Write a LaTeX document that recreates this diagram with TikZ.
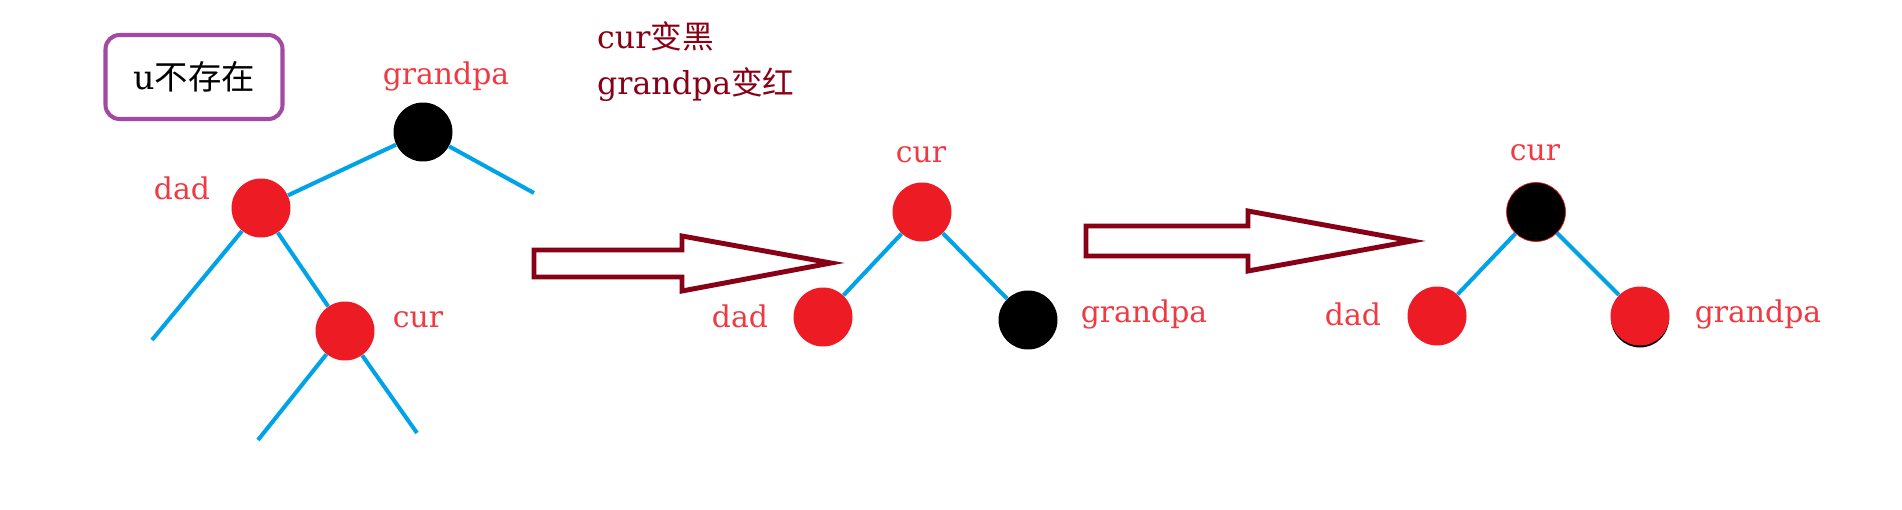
\documentclass[tikz,border=0pt]{standalone}
\usepackage{fontspec}
\setmainfont{DejaVu Serif}
\newfontfamily\cjk{Noto Sans CJK SC}
\definecolor{nodered}{HTML}{ED1C24}
\definecolor{lblred}{HTML}{EE3A42}
\definecolor{linkblue}{HTML}{00A2E8}
\definecolor{darkred}{HTML}{880015}
\definecolor{boxpurple}{HTML}{A349A4}

\begin{document}
\begin{tikzpicture}[
		x=0.02cm, y=-0.02cm,
		rb/.style={circle,fill=nodered,minimum size=1.18cm,inner sep=0pt},
		bk/.style={circle,fill=black,minimum size=1.18cm,inner sep=0pt},
		branch/.style={draw=linkblue,line width=2.3pt},
		lbl/.style={text=lblred,font=\fontsize{17}{20}\selectfont},
		note/.style={text=darkred,font=\fontsize{18}{24}\selectfont,anchor=west},
		bigarrow/.style={draw=darkred,line width=2.8pt,line join=miter},
		ubox/.style={draw=boxpurple,line width=2.3pt,rounded corners=0.28cm,minimum width=3.54cm,minimum height=1.68cm,font=\fontsize{19}{22}\selectfont}
		]
		\useasboundingbox (0,0) rectangle (1902,510);

		\node[ubox] (nou) at (194,77) {u{\cjk 不存在}};
		\node[note] (tip1) at (591,36) {cur{\cjk 变黑}};
		\node[note] (tip2) at (591,85) {grandpa{\cjk 变红}};

		\node[bk] (gp1) at (423,132) {};
		\node[rb] (dad1) at (261,208) {};
		\node[rb] (cur1) at (345,331) {};
		\node[lbl] (gp1t) at (446,76) {grandpa};
		\node[lbl] (dad1t) at (182,188) {dad};
		\node[lbl] (cur1t) at (418,320) {cur};
		\coordinate (gp1r) at (534,193);
		\coordinate (dad1l) at (152,340);
		\coordinate (cur1l) at (258,440);
		\coordinate (cur1r) at (417,433);
		\draw[branch] (gp1) -- (dad1);
		\draw[branch] (gp1) -- (gp1r);
		\draw[branch] (dad1) -- (dad1l);
		\draw[branch] (dad1) -- (cur1);
		\draw[branch] (cur1) -- (cur1l);
		\draw[branch] (cur1) -- (cur1r);

		\draw[bigarrow] (534,250) -- (682,250) -- (682,236) -- (831,263) -- (682,291) -- (682,277) -- (534,277) -- cycle;

		\node[rb] (cur2) at (922,212) {};
		\node[rb] (dad2) at (823,317) {};
		\node[bk] (gp2) at (1028,320) {};
		\node[lbl] (cur2t) at (921,155) {cur};
		\node[lbl] (dad2t) at (740,316) {dad};
		\node[lbl] (gp2t) at (1144,314) {grandpa};
		\draw[branch] (cur2) -- (dad2);
		\draw[branch] (cur2) -- (gp2);

		\draw[bigarrow] (1086,226) -- (1248,226) -- (1248,211) -- (1412,241) -- (1248,271) -- (1248,256) -- (1086,256) -- cycle;

		\fill[black] (1640,318.5) circle (29);
		\node[bk,draw=nodered,thin] (cur3) at (1536,212) {};
		\node[rb] (dad3) at (1437,316) {};
		\node[rb] (gp3) at (1640,316) {};
		\node[lbl] (cur3t) at (1535,153) {cur};
		\node[lbl] (dad3t) at (1353,314) {dad};
		\node[lbl] (gp3t) at (1758,314) {grandpa};
		\draw[branch] (cur3) -- (dad3);
		\draw[branch] (cur3) -- (gp3);
\end{tikzpicture}
\end{document}
